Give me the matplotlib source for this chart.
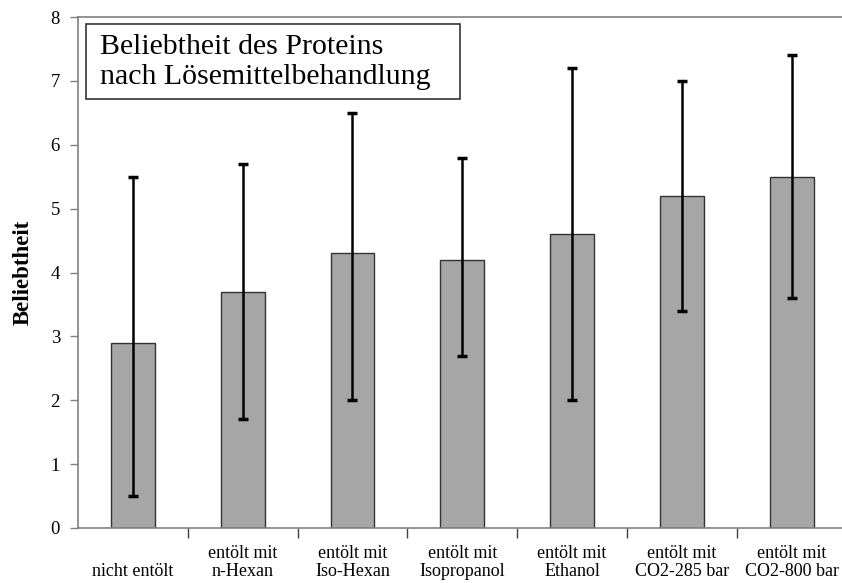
import numpy as np
import matplotlib.pyplot as plt
from matplotlib.patches import Rectangle

plt.rcParams['font.family'] = ['Liberation Serif', 'DejaVu Serif']

categories = ['\nnicht entölt', 'entölt mit\nn-Hexan', 'entölt mit\nIso-Hexan',
              'entölt mit\nIsopropanol', 'entölt mit\nEthanol',
              'entölt mit\nCO2-285 bar', 'entölt mit\nCO2-800 bar']
values = [2.9, 3.7, 4.3, 4.2, 4.6, 5.2, 5.5]
err_low = [0.5, 1.7, 2.0, 2.7, 2.0, 3.4, 3.6]
err_high = [5.5, 5.7, 6.5, 5.8, 7.2, 7.0, 7.4]

W, H = 842, 583
fig = plt.figure(figsize=(W / 100, H / 100), dpi=100)
ax = fig.add_axes([78 / W, (H - 528) / H, 768.6 / W, 511 / H])

x = np.arange(len(categories))
vals = np.array(values)
yerr = [vals - np.array(err_low), np.array(err_high) - vals]
ax.bar(x, vals, width=0.4, color='#a6a6a6', edgecolor='#333333', linewidth=1.0, zorder=2)
ax.errorbar(x, vals, yerr=yerr, fmt='none', ecolor='black', elinewidth=1.8,
            capsize=3.5, capthick=2.5, zorder=3)

ax.set_xlim(-0.5, len(categories) - 0.5)
ax.set_ylim(0, 8)
ax.set_yticks(range(0, 9))
ax.tick_params(axis='y', direction='out', length=6, width=1, color='#808080',
               labelsize=13.5, pad=7)

# boundary ticks, labels centred between them
ax.set_xticks(np.arange(0.5, len(categories) - 0.5, 1.0))
ax.set_xticklabels([])
ax.tick_params(axis='x', which='major', direction='out', length=7, width=1, color='#404040')
ax.set_xticks(x, minor=True)
ax.set_xticklabels(categories, minor=True, fontsize=13, linespacing=1.1)
ax.tick_params(axis='x', which='minor', length=0, pad=12)

for s in ['left', 'bottom', 'top']:
    ax.spines[s].set_color('#808080')
    ax.spines[s].set_linewidth(1.2)
ax.spines['right'].set_visible(False)

ax.set_ylabel('Beliebtheit', fontsize=16.5, fontweight='bold', labelpad=12)

# title box
fig.patches.append(Rectangle((86 / W, (H - 99) / H), 374 / W, 75 / H,
                             transform=fig.transFigure, facecolor='white',
                             edgecolor='#333333', linewidth=1.2, zorder=5))
fig.text(100 / W, (H - 62) / H, 'Beliebtheit des Proteins\nnach Lösemittelbehandlung',
         fontsize=21.5, ha='left', va='center', linespacing=1.15, zorder=6)

fig.savefig('out.png', dpi=100)
